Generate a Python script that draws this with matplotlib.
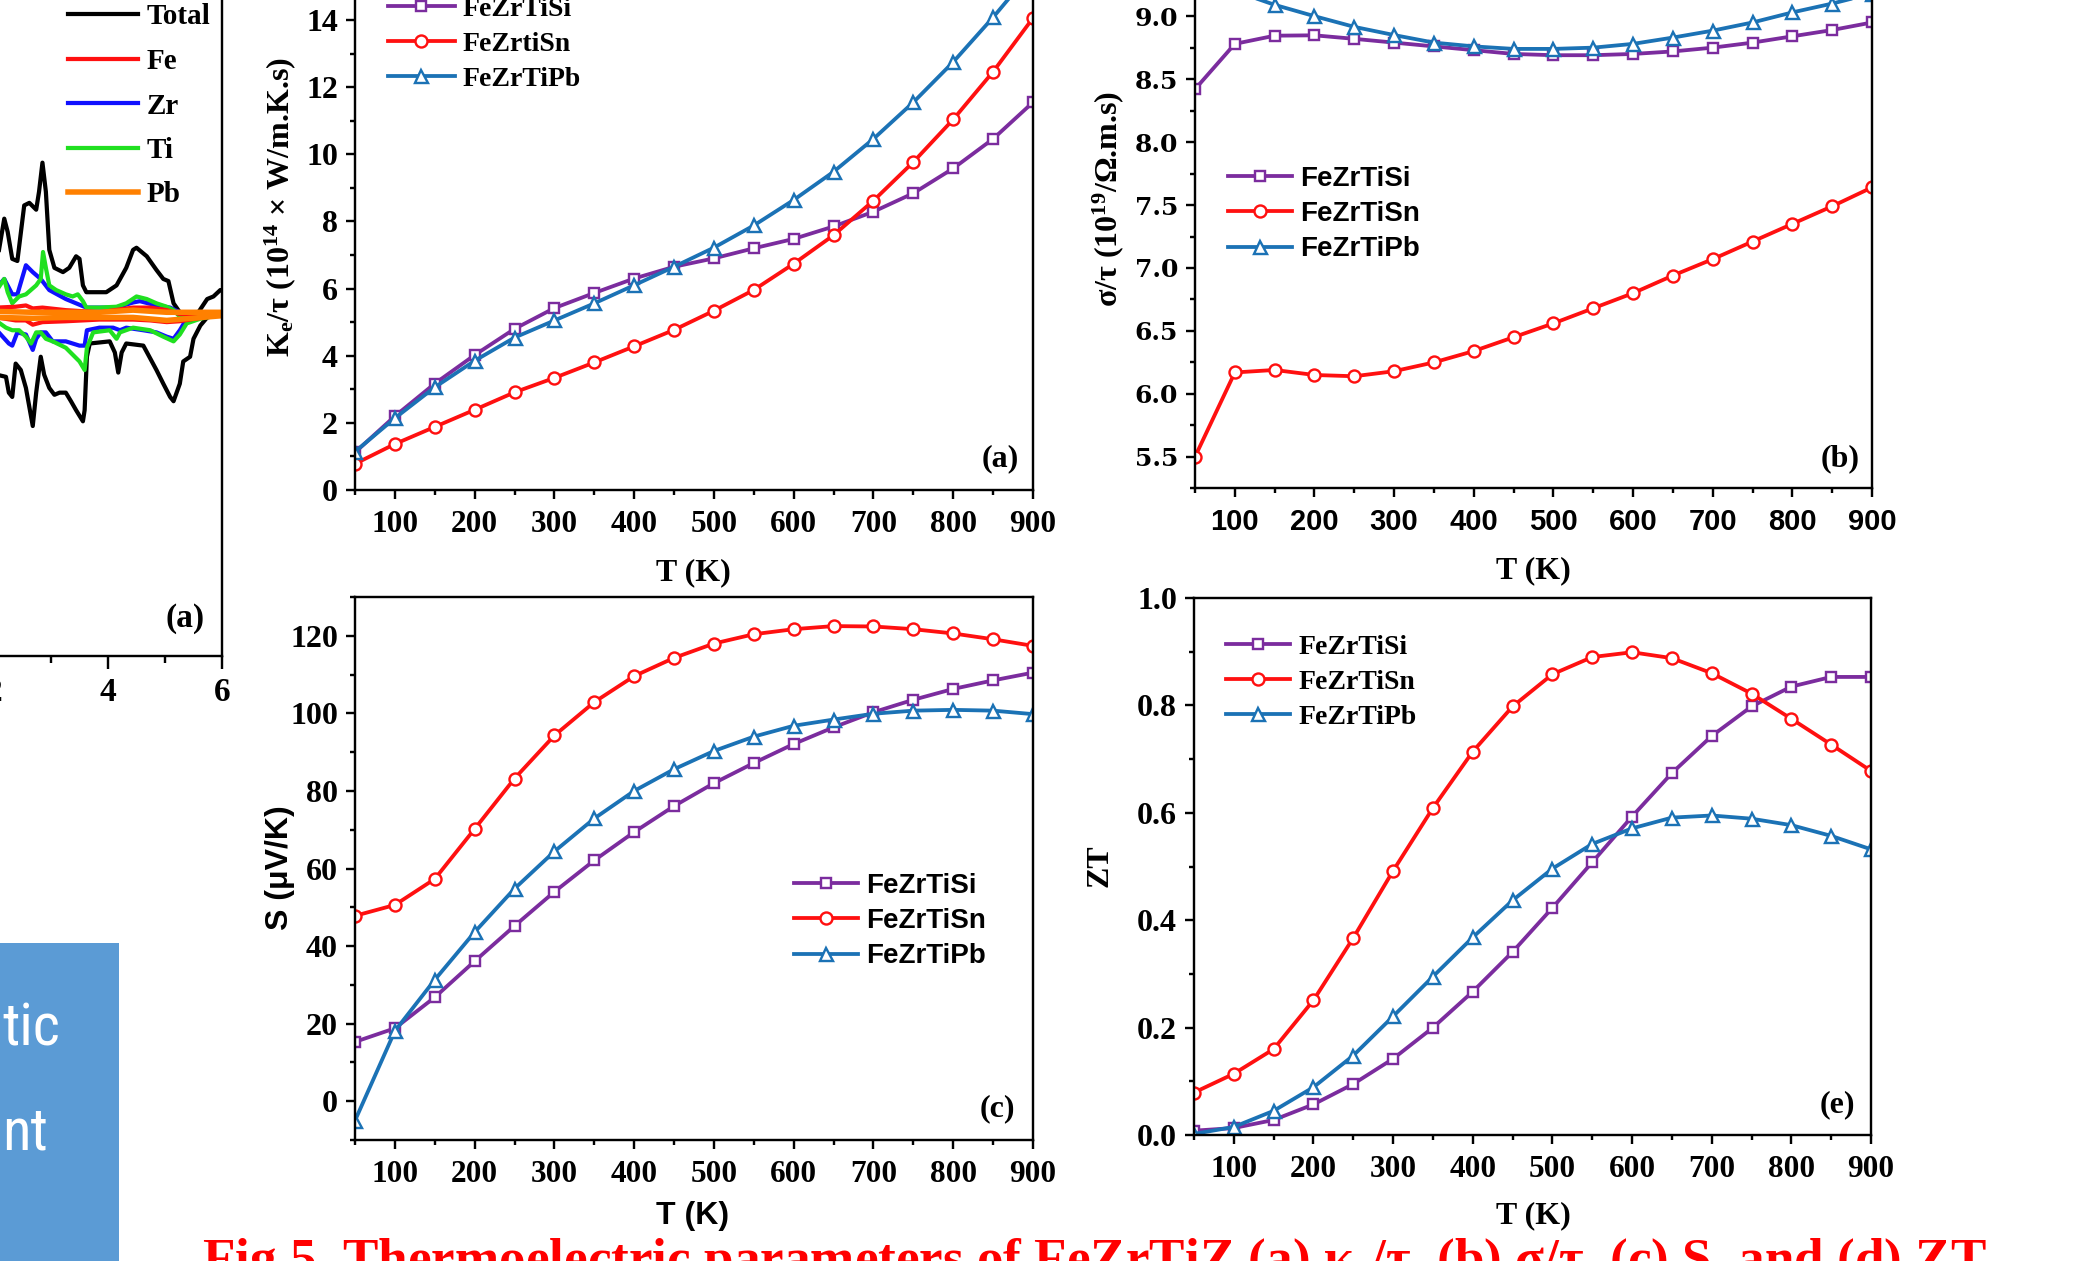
import numpy as np
import matplotlib
matplotlib.use('Agg')
import matplotlib.pyplot as plt
from matplotlib.patches import Rectangle
from matplotlib import font_manager as fm

# ---------------- data ----------------
T = [50, 100, 150, 200, 250, 300, 350, 400, 450, 500, 550, 600, 650, 700, 750, 800, 850, 900]

ke_si = [1.12, 2.2, 3.17, 4.02, 4.8, 5.42, 5.87, 6.3, 6.65, 6.9, 7.2, 7.48, 7.85, 8.29, 8.84, 9.58, 10.46, 11.55]
ke_sn = [0.78, 1.37, 1.88, 2.39, 2.91, 3.34, 3.8, 4.28, 4.77, 5.34, 5.96, 6.74, 7.59, 8.62, 9.77, 11.04, 12.46, 14.06]
ke_pb = [1.14, 2.14, 3.06, 3.85, 4.54, 5.05, 5.56, 6.1, 6.65, 7.22, 7.88, 8.64, 9.48, 10.46, 11.55, 12.75, 14.08, 15.5]

sig_si = [8.42, 8.78, 8.845, 8.848, 8.82, 8.79, 8.76, 8.73, 8.70, 8.69, 8.69, 8.70, 8.72, 8.75, 8.79, 8.84, 8.89, 8.95]
sig_sn = [5.5, 6.17, 6.19, 6.15, 6.14, 6.18, 6.25, 6.34, 6.45, 6.56, 6.68, 6.80, 6.94, 7.07, 7.21, 7.35, 7.49, 7.64]
sig_pb = [9.35, 9.2, 9.09, 9.0, 8.915, 8.85, 8.79, 8.76, 8.74, 8.74, 8.75, 8.78, 8.83, 8.885, 8.95, 9.03, 9.10, 9.18]

s_si = [15.3, 18.8, 26.8, 36.1, 45.2, 54.0, 62.1, 69.4, 76.1, 82.0, 87.2, 92.1, 96.4, 100.3, 103.5, 106.3, 108.5, 110.5]
s_sn = [47.8, 50.6, 57.3, 70.2, 83.2, 94.3, 102.9, 109.6, 114.3, 118.0, 120.4, 121.7, 122.5, 122.4, 121.7, 120.6, 119.1, 117.4]
s_pb = [-5.0, 18.1, 31.3, 43.6, 54.8, 64.4, 72.9, 80.0, 85.6, 90.3, 94.0, 96.8, 98.4, 99.9, 100.7, 100.9, 100.7, 99.8]

zt_si = [0.008, 0.013, 0.028, 0.057, 0.095, 0.142, 0.2, 0.267, 0.341, 0.423, 0.508, 0.593, 0.674, 0.743, 0.798, 0.835, 0.853, 0.853]
zt_sn = [0.079, 0.114, 0.16, 0.251, 0.367, 0.492, 0.609, 0.714, 0.798, 0.858, 0.89, 0.899, 0.888, 0.86, 0.822, 0.775, 0.727, 0.678]
zt_pb = [0.002, 0.015, 0.045, 0.089, 0.148, 0.221, 0.295, 0.368, 0.437, 0.496, 0.542, 0.571, 0.591, 0.595, 0.589, 0.577, 0.557, 0.532]

names_a = ['FeZrTiSi', 'FeZrtiSn', 'FeZrTiPb']
names = ['FeZrTiSi', 'FeZrTiSn', 'FeZrTiPb']

x_ticks = [100, 200, 300, 400, 500, 600, 700, 800, 900]
x_ticklabels = ['100', '200', '300', '400', '500', '600', '700', '800', '900']
ke_ticks = [0, 2, 4, 6, 8, 10, 12, 14]
ke_ticklabels = ['0', '2', '4', '6', '8', '10', '12', '14']
sig_ticks = [5.5, 6.0, 6.5, 7.0, 7.5, 8.0, 8.5, 9.0]
sig_ticklabels = ['5.5', '6.0', '6.5', '7.0', '7.5', '8.0', '8.5', '9.0']
s_ticks = [0, 20, 40, 60, 80, 100, 120]
s_ticklabels = ['0', '20', '40', '60', '80', '100', '120']
zt_ticks = [0.0, 0.2, 0.4, 0.6, 0.8, 1.0]
zt_ticklabels = ['0.0', '0.2', '0.4', '0.6', '0.8', '1.0']

# partial DOS panel (spin up positive, spin down negative)
dos_species = ['Total', 'Fe', 'Zr', 'Ti', 'Pb']
e_tot_up = [2.05, 2.18, 2.24, 2.32, 2.41, 2.53, 2.62, 2.74, 2.79, 2.85, 2.91, 2.97, 3.06, 3.21, 3.32, 3.44, 3.50, 3.56, 3.62, 3.97, 4.15, 4.32, 4.44, 4.50, 4.68, 4.85, 4.97, 5.06, 5.15, 5.26, 5.44, 5.56, 5.74, 5.85, 5.97, 6.0]
d_tot_up = [1.20, 2.23, 1.92, 1.29, 1.24, 2.54, 2.60, 2.44, 2.86, 3.54, 2.86, 1.50, 1.08, 0.98, 1.08, 1.35, 1.29, 0.67, 0.51, 0.51, 0.67, 1.08, 1.50, 1.55, 1.35, 1.03, 0.82, 0.77, 0.25, 0.04, -0.11, -0.01, 0.35, 0.41, 0.56, 0.56]
e_tot_dn = [2.05, 2.21, 2.26, 2.32, 2.38, 2.47, 2.56, 2.68, 2.74, 2.82, 2.88, 2.97, 3.06, 3.15, 3.26, 3.35, 3.44, 3.56, 3.59, 3.63, 3.68, 4.03, 4.12, 4.18, 4.24, 4.32, 4.62, 4.85, 4.97, 5.09, 5.15, 5.26, 5.32, 5.44, 5.50, 5.62, 5.74, 6.0]
d_tot_dn = [-1.42, -1.47, -1.84, -1.94, -1.16, -1.31, -1.73, -2.62, -1.84, -1.00, -1.42, -1.73, -1.89, -1.84, -1.84, -2.04, -2.25, -2.51, -2.25, -1.00, -0.69, -0.64, -0.90, -1.37, -0.90, -0.69, -0.74, -1.31, -1.63, -1.94, -2.04, -1.63, -1.11, -1.00, -0.58, -0.27, -0.08, -0.01]
e_zr_up = [2.05, 2.18, 2.32, 2.41, 2.56, 2.68, 2.82, 2.97, 3.26, 3.62, 4.15, 4.44, 4.56, 4.85, 5.09, 5.26, 5.38, 6.0]
d_zr_up = [0.62, 0.82, 0.46, 0.46, 1.14, 0.98, 0.82, 0.56, 0.35, 0.15, 0.15, 0.27, 0.30, 0.20, 0.15, 0.04, -0.01, 0.04]
e_zr_dn = [2.05, 2.26, 2.32, 2.41, 2.56, 2.68, 2.74, 2.82, 2.91, 3.03, 3.26, 3.50, 3.59, 3.63, 3.85, 4.09, 4.21, 4.32, 4.62, 4.85, 5.03, 5.15, 5.26, 5.38, 5.62, 6.0]
d_zr_dn = [-0.38, -0.69, -0.74, -0.43, -0.48, -0.84, -0.58, -0.43, -0.43, -0.64, -0.64, -0.74, -0.74, -0.38, -0.32, -0.32, -0.38, -0.32, -0.38, -0.43, -0.53, -0.58, -0.38, -0.11, -0.06, -0.01]
e_ti_up = [2.05, 2.18, 2.24, 2.32, 2.44, 2.56, 2.74, 2.82, 2.86, 2.91, 2.97, 3.09, 3.26, 3.38, 3.47, 3.56, 3.62, 3.85, 4.15, 4.32, 4.50, 4.68, 4.85, 5.03, 5.15, 5.26, 5.38, 6.0]
d_ti_up = [0.56, 0.82, 0.51, 0.25, 0.41, 0.46, 0.67, 0.82, 1.45, 1.08, 0.67, 0.56, 0.46, 0.41, 0.46, 0.30, 0.15, 0.15, 0.17, 0.25, 0.41, 0.35, 0.25, 0.17, 0.09, -0.06, -0.08, 0.04]
e_ti_dn = [2.05, 2.21, 2.32, 2.44, 2.56, 2.65, 2.74, 2.82, 2.91, 3.03, 3.26, 3.50, 3.59, 3.63, 3.74, 4.03, 4.15, 4.21, 4.44, 4.74, 4.97, 5.15, 5.26, 5.38, 5.62, 6.0]
d_ti_dn = [-0.17, -0.32, -0.38, -0.38, -0.53, -0.69, -0.43, -0.43, -0.58, -0.64, -0.79, -1.11, -1.31, -0.79, -0.43, -0.38, -0.58, -0.43, -0.32, -0.38, -0.53, -0.64, -0.48, -0.22, -0.11, -0.01]
e_fe = [2.05, 2.38, 2.56, 2.68, 2.85, 3.26, 3.85, 4.44, 4.74, 5.03, 5.25, 6.0]
d_fe_up = [0.15, 0.17, 0.20, 0.13, 0.15, 0.09, 0.04, 0.15, 0.15, 0.09, 0.0, 0.01]
d_fe_dn = [-0.08, -0.15, -0.15, -0.25, -0.19, -0.17, -0.13, -0.13, -0.15, -0.19, -0.17, -0.01]
e_pb = [2.05, 2.68, 3.26, 3.85, 4.44, 5.03, 6.0]
d_pb_up = [0.06, 0.04, 0.04, 0.04, 0.09, 0.04, 0.04]
d_pb_dn = [-0.08, -0.10, -0.08, -0.08, -0.08, -0.15, -0.04]
dos_ticks = [2, 4, 6]
dos_ticklabels = ['2', '4', '6']

box_words = ['tic', 'nt']

caption = ("Fig 5. Thermoelectric parameters of FeZrTiZ (a) \u03ba$_\\mathrm{e}$/\u03c4, "
           "(b) \u03c3/\u03c4, (c) S, and (d) ZT")

# ---------------- style ----------------
W, H = 2099, 1261
PX = 72 / 100.0  # points per pixel
plt.rcParams['mathtext.fontset'] = 'custom'
plt.rcParams['mathtext.rm'] = 'Liberation Serif:bold'
plt.rcParams['mathtext.it'] = 'Liberation Serif:italic:bold'
plt.rcParams['mathtext.bf'] = 'Liberation Serif:bold'
plt.rcParams['axes.linewidth'] = 2.4 * PX

SERIF = 'Liberation Serif'
SANS = 'Liberation Sans'
PURPLE = '#7B2C9E'
RED = '#FF1010'
BLUE = '#1B72B5'

fig = plt.figure(figsize=(W / 100, H / 100), dpi=100)
fig.patch.set_facecolor('white')


def px_axes(l, t, r, b):
    return fig.add_axes([l / W, 1 - b / H, (r - l) / W, (b - t) / H])


def fxy(x, y):
    return (x / W, 1 - y / H)


def style_axes(ax, yticks, yticklabels, yminor, ylim, xfam, yfam, xfs, yfs):
    ax.set_xlim(50, 900)
    ax.set_ylim(*ylim)
    ax.set_xticks(x_ticks)
    ax.set_xticklabels(x_ticklabels, fontfamily=xfam, fontweight='bold', fontsize=xfs)
    ax.set_xticks(np.arange(50, 901, 50), minor=True)
    ax.set_yticks(yticks)
    ax.set_yticklabels(yticklabels, fontfamily=yfam, fontweight='bold', fontsize=yfs)
    ax.set_yticks(yminor, minor=True)
    ax.set_ylim(*ylim)
    ax.tick_params(which='major', direction='out', length=9 * PX, width=2.4 * PX,
                   top=False, right=False, pad=8 * PX, colors='black')
    ax.tick_params(which='minor', direction='out', length=5 * PX, width=2.4 * PX,
                   top=False, right=False)
    ax.tick_params(axis='x', which='major', pad=11 * PX)


def plot_three(ax, ys, labels, legend_xy, legfam, legfs, hl):
    mk = dict(markerfacecolor='white', markeredgewidth=2.4 * PX, linewidth=3.8 * PX)
    h1, = ax.plot(T, ys[0], color=PURPLE, marker='s', markersize=10.5 * PX, label=labels[0], **mk)
    h2, = ax.plot(T, ys[1], color=RED, marker='o', markersize=12 * PX, label=labels[1], **mk)
    h3, = ax.plot(T, ys[2], color=BLUE, marker='^', markersize=13 * PX, label=labels[2], **mk)
    ax.legend(handles=[h1, h2, h3], loc='center left', bbox_to_anchor=fxy(*legend_xy),
              bbox_transform=fig.transFigure, frameon=False, borderpad=0, borderaxespad=0,
              handlelength=hl, handletextpad=0.3, labelspacing=0.34, numpoints=1,
              prop=dict(family=legfam, weight='bold', size=legfs))


def ftext(x, y, s, **kw):
    return fig.text(x / W, 1 - y / H, s, **kw)


# ---------------- panel (a) Ke/tau ----------------
axa = px_axes(355, 490 - 16 * 33.57, 1033, 490)
style_axes(axa, ke_ticks, ke_ticklabels, np.arange(1, 16, 2), (0, 16), SERIF, SERIF, 22.5, 23)
plot_three(axa, [ke_si, ke_sn, ke_pb], names_a, (388, 44), SERIF, 20, 2.4)
ftext(1000, 459, '(a)', ha='center', va='center', fontfamily=SERIF, fontweight='bold', fontsize=23)
ftext(693, 573, 'T (K)', ha='center', va='center', fontfamily=SERIF, fontweight='bold', fontsize=23)
ftext(280, 207, 'K$_\\mathrm{e}$/\u03c4 (10$^{14}$ \u00d7 W/m.K.s)', ha='center', va='center',
      rotation=90, fontfamily=SERIF, fontweight='bold', fontsize=23)

# ---------------- panel (b) sigma/tau ----------------
axb = px_axes(1195, 488.3 - 4.25 * 125.9, 1872, 488.3)
style_axes(axb, sig_ticks, sig_ticklabels, np.arange(5.25, 9.3, 0.5), (5.25, 9.5), SANS, 'DejaVu Serif', 21, 18)
plot_three(axb, [sig_si, sig_sn, sig_pb], names, (1228, 214), SANS, 20, 2.3)
ftext(1840, 459, '(b)', ha='center', va='center', fontfamily=SERIF, fontweight='bold', fontsize=23)
ftext(1533, 571, 'T (K)', ha='center', va='center', fontfamily=SERIF, fontweight='bold', fontsize=23)
ftext(1108, 199, '\u03c3/\u03c4 (10$^{19}$/\u03a9.m.s)', ha='center', va='center',
      rotation=90, fontfamily=SERIF, fontweight='bold', fontsize=23)

# ---------------- panel (c) Seebeck ----------------
axc = px_axes(355, 597, 1033, 1140)
style_axes(axc, s_ticks, s_ticklabels, np.arange(-10, 131, 20), (-10, 130), SERIF, SERIF, 22.5, 23)
plot_three(axc, [s_si, s_sn, s_pb], names, (794, 921), SANS, 20, 2.3)
ftext(997, 1109, '(c)', ha='center', va='center', fontfamily=SERIF, fontweight='bold', fontsize=23)
ftext(693, 1216, 'T (K)', ha='center', va='center', fontfamily=SANS, fontweight='bold', fontsize=23)
ftext(280, 868, 'S (\u03bcV/K)', ha='center', va='center', rotation=90,
      fontfamily=SANS, fontweight='bold', fontsize=23)

# ---------------- panel (e) ZT ----------------
axe = px_axes(1194, 598, 1871, 1135)
style_axes(axe, zt_ticks, zt_ticklabels, np.arange(0.1, 1.0, 0.2), (0, 1), SERIF, SERIF, 22.5, 23)
plot_three(axe, [zt_si, zt_sn, zt_pb], names, (1226, 682), SERIF, 20, 2.3)
ftext(1837, 1105, '(e)', ha='center', va='center', fontfamily=SERIF, fontweight='bold', fontsize=23)
ftext(1533, 1216, 'T (K)', ha='center', va='center', fontfamily=SERIF, fontweight='bold', fontsize=23)
ftext(1100, 866, 'ZT', ha='center', va='center', rotation=90,
      fontfamily=SERIF, fontweight='bold', fontsize=23)

# ---------------- partial DOS panel ----------------
axd = px_axes(222 - 12 * 57, 656 - 16 * 42.75, 222, 656)
axd.set_xlim(-6, 6)
axd.set_ylim(-8, 8)
lw = 4.2 * PX
h_tot, = axd.plot(e_tot_up, d_tot_up, color='black', lw=lw, label='Total')
axd.plot(e_tot_dn, d_tot_dn, color='black', lw=lw)
h_zr, = axd.plot(e_zr_up, d_zr_up, color='#1010FF', lw=lw, label='Zr')
axd.plot(e_zr_dn, d_zr_dn, color='#1010FF', lw=lw)
h_ti, = axd.plot(e_ti_up, d_ti_up, color='#20E020', lw=lw, label='Ti')
axd.plot(e_ti_dn, d_ti_dn, color='#20E020', lw=lw)
h_fe, = axd.plot(e_fe, d_fe_up, color='#FF1010', lw=lw, label='Fe')
axd.plot(e_fe, d_fe_dn, color='#FF1010', lw=lw)
h_pb, = axd.plot(e_pb, d_pb_up, color='#FF8000', lw=5.5 * PX, label='Pb')
axd.plot(e_pb, d_pb_dn, color='#FF8000', lw=5.5 * PX)
axd.set_xticks(dos_ticks)
axd.set_xticklabels(dos_ticklabels, fontfamily=SERIF, fontweight='bold', fontsize=24)
axd.set_xticks([1, 3, 5], minor=True)
axd.set_yticks([])
axd.tick_params(which='major', direction='out', length=13 * PX, width=2.4 * PX, top=False, pad=8 * PX)
axd.tick_params(which='minor', direction='out', length=7 * PX, width=2.4 * PX, top=False)
axd.legend(handles=[h_tot, h_fe, h_zr, h_ti, h_pb], labels=dos_species, loc='center left',
           bbox_to_anchor=fxy(68, 106), bbox_transform=fig.transFigure, frameon=False,
           borderpad=0, borderaxespad=0, handlelength=2.4, handletextpad=0.28,
           labelspacing=0.6, prop=dict(family=SERIF, weight='bold', size=21))
ftext(185, 618, '(a)', ha='center', va='center', fontfamily=SERIF, fontweight='bold', fontsize=24)

# ---------------- blue box ----------------
fig.patches.append(Rectangle((0, 0), 119 / W, (H - 943) / H, transform=fig.transFigure,
                             facecolor='#5B9BD5', edgecolor='none', zorder=0))


def pick_narrow():
    prefs = ['Liberation Sans Narrow', 'Roboto Condensed', 'Open Sans Condensed', 'DejaVu Sans']
    for want in prefs:
        for f in fm.fontManager.ttflist:
            nm = f.name + ' ' + str(f.fname)
            if f.name.startswith(want.split(' Condensed')[0]) and \
                    ('Condensed' in nm or 'Narrow' in nm or str(f.stretch) == 'condensed') and \
                    f.weight in (400, 'normal', 'regular') and f.style == 'normal':
                return fm.FontProperties(fname=f.fname)
    return fm.FontProperties(family=SANS)


box_fp = pick_narrow()
box_fp.set_size(60)
t1 = ftext(60, 1045, box_words[0], ha='right', va='baseline', color='white', fontproperties=box_fp)
t2 = ftext(48, 1150, box_words[1], ha='right', va='baseline', color='white', fontproperties=box_fp)

# ---------------- caption ----------------
cap = fig.text(202 / W, 0, caption, ha='left', va='baseline', color='#FF0000',
               fontfamily=SERIF, fontweight='bold', fontsize=30)
fig.canvas.draw()
bb = cap.get_window_extent()
fs = 30 * 1784 / bb.width
cap.set_fontsize(fs)
cap_px = fs / PX
cap.set_position((202 / W, 1 - (1240 + 0.66 * cap_px) / H))

# fit the box word so that "tic" spans ~58 px like in the reference
wb = t1.get_window_extent().width
bfs = min(66, 60 * 58 / wb)
t1.set_fontsize(bfs)
t2.set_fontsize(bfs)

fig.savefig('out.png', dpi=100)
